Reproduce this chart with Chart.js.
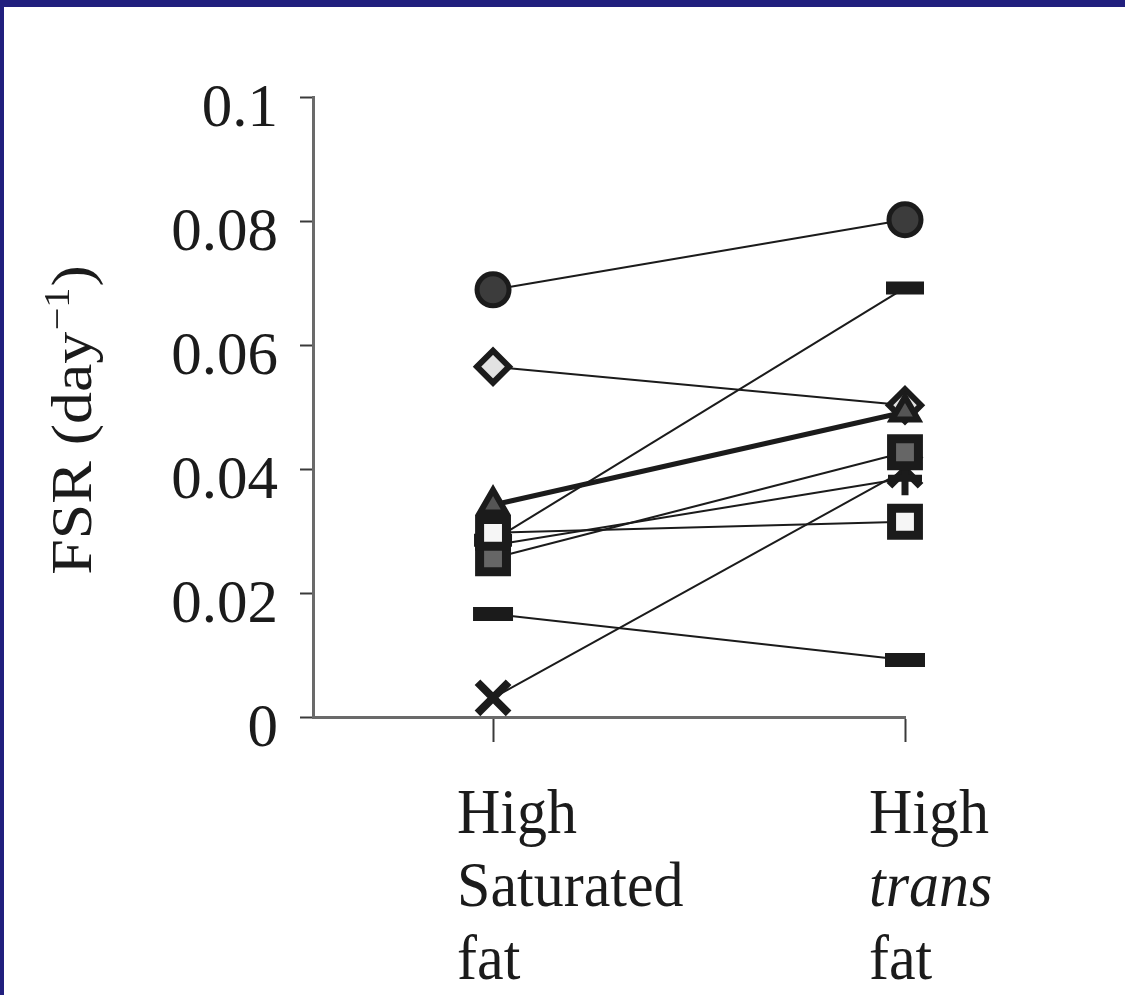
<!DOCTYPE html>
<html>
<head>
<meta charset="utf-8">
<script src="https://cdn.jsdelivr.net/npm/chart.js@4.4.1/dist/chart.umd.min.js"></script>
<style>
  html, body { margin: 0; padding: 0; background: #211f7e; width: 1125px; height: 995px; overflow: hidden; }
  #frame { position: absolute; left: 4px; top: 7px; width: 1121px; height: 988px; background: #ffffff; }
  canvas { display: block; }
</style>
</head>
<body>
<div id="frame"><canvas id="c" width="1121" height="988"></canvas></div>
<script>
// ---- data ----
const categories = [['High', 'Saturated', 'fat'], ['High', 'trans', 'fat']];
const xValues = [0, 1];
const yTicks = [0, 0.02, 0.04, 0.06, 0.08, 0.1];
const yTitle = ['FSR (day', '\u22121', ')'];

const openSquareS = [0.0297, 0.0315];
const graySquareS = [0.0256, 0.0427];
const circleS     = [0.0689, 0.0802];
const diamondS    = [0.0565, 0.0503];
const triangleS   = [0.0342, 0.0492];
const dashHighS   = [0.0285, 0.0692];
const crossS      = [0.0277, 0.0385];
const dashLowS    = [0.0166, 0.0092];
const xMarkS      = [0.0031, 0.0398];

const pts = arr => xValues.map((x, i) => ({ x: x, y: arr[i] }));
const INK = '#1b1b1b';

function ds(values, style) {
  return Object.assign({
    data: pts(values),
    borderColor: INK,
    borderWidth: 2,
    pointBorderColor: INK,
    pointBackgroundColor: INK,
    clip: false,
    tension: 0
  }, style);
}

const datasets = [
  ds(openSquareS, { pointStyle: 'rect', pointRadius: 19, pointBorderWidth: 9, pointBackgroundColor: '#f6f6f6' }),
  ds(graySquareS, { pointStyle: 'rect', pointRadius: 19, pointBorderWidth: 9, pointBackgroundColor: '#666666' }),
  ds(triangleS,   { pointStyle: 'triangle', pointRadius: 15, pointBorderWidth: 6, pointBackgroundColor: '#555555', borderWidth: 5 }),
  ds(crossS,      { pointStyle: 'cross', pointRadius: 17, pointBorderWidth: 7 }),
  ds(dashHighS,   { pointStyle: 'line', pointRadius: 19, pointBorderWidth: 13 }),
  ds(circleS,     { pointStyle: 'circle', pointRadius: 16, pointBorderWidth: 5, pointBackgroundColor: '#3c3c3c' }),
  ds(diamondS,    { pointStyle: 'rectRot', pointRadius: 16, pointBorderWidth: 6, pointBackgroundColor: '#e2e2e2' }),
  ds(dashLowS,    { pointStyle: 'line', pointRadius: 20, pointBorderWidth: 14 }),
  ds(xMarkS,      { pointStyle: 'crossRot', pointRadius: 22, pointBorderWidth: 8 })
];
datasets.forEach(d => { d.pointHoverRadius = d.pointRadius; d.pointHoverBorderWidth = d.pointBorderWidth; });

const SERIF = "'Liberation Serif', 'Times New Roman', serif";

const labelsPlugin = {
  id: 'customText',
  afterDraw(chart) {
    const ctx = chart.ctx;
    const xs = chart.scales.x;
    ctx.save();
    ctx.fillStyle = INK;
    ctx.textAlign = 'left';
    ctx.textBaseline = 'alphabetic';
    // category labels (multi-line, second right-hand line italic)
    const baseY = chart.chartArea.bottom + 116;
    const lineH = 73;
    categories.forEach((lines, i) => {
      const x = xs.getPixelForValue(xValues[i]) - 36;
      lines.forEach((t, j) => {
        const italic = (i === 1 && j === 1);
        ctx.font = (italic ? 'italic ' : '') + '60px ' + SERIF;
        ctx.save();
        ctx.translate(x, baseY + j * lineH);
        ctx.scale(1, 1.06);
        ctx.fillText(t, 0, 0);
        ctx.restore();
      });
    });
    // rotated y-axis title with superscript
    const midY = (chart.chartArea.top + chart.chartArea.bottom) / 2 + 13;
    ctx.translate(87, midY);
    ctx.rotate(-Math.PI / 2);
    ctx.scale(1.12, 1);
    const big = '57px ' + SERIF, small = '36px ' + SERIF;
    ctx.font = big; const w1 = ctx.measureText(yTitle[0]).width;
    ctx.font = small; const w2 = ctx.measureText(yTitle[1]).width;
    ctx.font = big; const w3 = ctx.measureText(yTitle[2]).width;
    let x0 = -(w1 + w2 + w3 + 2) / 2;
    ctx.font = big; ctx.fillText(yTitle[0], x0, 0);
    ctx.font = small; ctx.fillText(yTitle[1], x0 + w1 + 1, -22);
    ctx.font = big; ctx.fillText(yTitle[2], x0 + w1 + w2 + 2, 0);
    ctx.restore();
  }
};

new Chart(document.getElementById('c'), {
  type: 'line',
  data: { datasets: datasets },
  plugins: [labelsPlugin],
  options: {
    responsive: false,
    animation: false,
    events: [],
    layout: { padding: { left: 0, top: 90, right: 220, bottom: 0 } },
    plugins: { legend: { display: false }, tooltip: { enabled: false }, title: { display: false } },
    scales: {
      x: {
        type: 'linear',
        min: -0.437,
        max: 1,
        afterBuildTicks: s => { s.ticks = xValues.map(v => ({ value: v })); },
        afterFit: s => { s.height = 278; },
        ticks: { display: false },
        grid: { drawOnChartArea: false, drawTicks: true, tickLength: 25, tickWidth: 2, tickColor: '#3a3a3a' },
        border: { display: true, color: '#6a6a6a', width: 3 }
      },
      y: {
        type: 'linear',
        min: 0,
        max: 0.1,
        afterBuildTicks: s => { s.ticks = yTicks.map(v => ({ value: v })); },
        afterFit: s => { s.width = 309; },
        ticks: {
          callback: v => String(Number(v.toFixed(2))),
          font: { family: SERIF, size: 61 },
          color: INK,
          padding: 22,
          labelOffset: 13
        },
        grid: { drawOnChartArea: false, drawTicks: true, tickLength: 13, tickWidth: 2, tickColor: '#3a3a3a' },
        border: { display: true, color: '#6a6a6a', width: 3 }
      }
    }
  }
});
</script>
</body>
</html>
